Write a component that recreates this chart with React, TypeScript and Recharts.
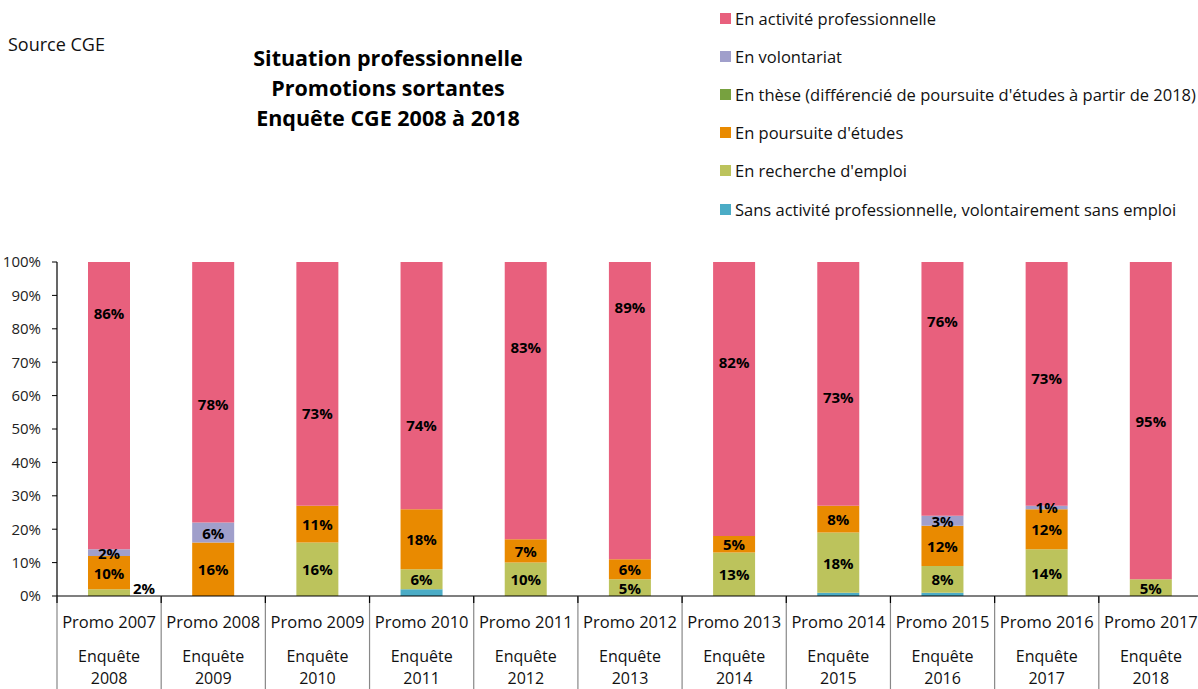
import React from 'react';
import { BarChart, Bar, XAxis, YAxis, LabelList } from 'recharts';

const promos = ['Promo 2007', 'Promo 2008', 'Promo 2009', 'Promo 2010', 'Promo 2011', 'Promo 2012', 'Promo 2013', 'Promo 2014', 'Promo 2015', 'Promo 2016', 'Promo 2017'];
const enquetes = ['2008', '2009', '2010', '2011', '2012', '2013', '2014', '2015', '2016', '2017', '2018'];

const sansActivite = [0, 0, 0, 2, 0, 0, 0, 1, 1, 0, 0];
const recherche = [2, 0, 16, 6, 10, 5, 13, 18, 8, 14, 5];
const poursuite = [10, 16, 11, 18, 7, 6, 5, 8, 12, 12, 0];
const these = [0, 0, 0, 0, 0, 0, 0, 0, 0, 0, 0];
const volontariat = [2, 6, 0, 0, 0, 0, 0, 0, 3, 1, 0];
const activite = [86, 78, 73, 74, 83, 89, 82, 73, 76, 73, 95];
// where (on the % axis) the "En activité" label sits in each bar
const activiteLabelAt = [84.7, 57.5, 54.8, 51.2, 74.6, 86.5, 70.1, 59.6, 82.3, 65.3, 52.4];

const yTicks = [0, 10, 20, 30, 40, 50, 60, 70, 80, 90, 100];

const series = [
  { key: 'sans', name: 'Sans activité professionnelle, volontairement sans emploi', color: '#4BACC6', values: sansActivite, label: false },
  { key: 'recherche', name: "En recherche d'emploi", color: '#BCC35C', values: recherche, label: true },
  { key: 'poursuite', name: "En poursuite d'études", color: '#E98A00', values: poursuite, label: true },
  { key: 'these', name: "En thèse (différencié de poursuite d'études à partir de 2018)", color: '#77A13F', values: these, label: true },
  { key: 'volontariat', name: 'En volontariat', color: '#A09FCB', values: volontariat, label: true },
  { key: 'activite', name: 'En activité professionnelle', color: '#E8607D', values: activite, label: true },
];

const data = promos.map((p, i) => {
  const row: any = { promo: p, enquete: enquetes[i] };
  series.forEach((s) => { row[s.key] = s.values[i]; });
  return row;
});

const FONT = '"Open Sans", "Noto Sans", sans-serif';
const CHART_W = 1206;
const CHART_H = 689;
const M_LEFT = 57;
const M_RIGHT = 3;
const M_TOP = 262;
const X_H = 93;
const PLOT_BOTTOM = CHART_H - X_H;
const PLOT_W = CHART_W - M_LEFT - M_RIGHT;
const BAND = PLOT_W / promos.length;

const XTick = (props: any) => {
  const { x, payload } = props;
  const i = promos.indexOf(payload.value);
  const left = x - BAND / 2;
  return (
    <g>
      <line x1={left} y1={PLOT_BOTTOM} x2={left} y2={CHART_H} stroke="#888" strokeWidth={1.2} />
      <line x1={left} y1={PLOT_BOTTOM} x2={left} y2={PLOT_BOTTOM + 7} stroke="#000" strokeWidth={1.2} />
      <text x={x} y={621} textAnchor="middle" dominantBaseline="central" fontSize={16.5} fill="#111" fontFamily={FONT}>{promos[i]}</text>
      <text x={x} y={656} textAnchor="middle" dominantBaseline="central" fontSize={16} fill="#111" fontFamily={FONT}>Enquête</text>
      <text x={x} y={678} textAnchor="middle" dominantBaseline="central" fontSize={16} fill="#111" fontFamily={FONT}>{enquetes[i]}</text>
    </g>
  );
};

const makeLabel = (key: string) => (props: any) => {
  const { x, y, width, height, value, index } = props;
  if (!value) return null;
  let cx = x + width / 2;
  let cy = y + height / 2;
  let anchor: any = 'middle';
  if (key === 'activite') {
    const pxPer = height / value;
    cy = y + height - (activiteLabelAt[index] - (100 - value)) * pxPer;
  }
  if (key === 'recherche' && height < 10) {
    cx = x + width + 3;
    anchor = 'start';
    cy = y + height / 2 - 5;
  }
  return (
    <text x={cx} y={cy} textAnchor={anchor} dominantBaseline="central" fontSize={15} fontWeight={700} fill="#000" fontFamily={FONT}>
      {value}%
    </text>
  );
};

export default function App() {
  const legendItems = [...series].reverse();
  return (
    <div style={{ position: 'absolute', left: 0, top: 0, width: 1198, height: 689, overflow: 'hidden', background: '#fff', fontFamily: FONT }}>
      <div style={{ position: 'absolute', left: 8, top: 32, fontSize: 18, lineHeight: '24px', color: '#111' }}>Source CGE</div>
      <div style={{ position: 'absolute', left: 188, top: 43, width: 400, textAlign: 'center', fontSize: 21.5, fontWeight: 700, lineHeight: '30px', color: '#000' }}>
        <div>Situation professionnelle</div>
        <div>Promotions sortantes</div>
        <div>Enquête CGE 2008 à 2018</div>
      </div>
      {legendItems.map((s, i) => (
        <div key={s.key} style={{ position: 'absolute', left: 720, top: 18 + i * 38.2 - 11, height: 22, display: 'flex', alignItems: 'center', fontSize: 16.5, color: '#111', whiteSpace: 'nowrap' }}>
          <span style={{ display: 'inline-block', width: 11, height: 11, background: s.color, marginRight: 4 }} />
          <span>{s.name}</span>
        </div>
      ))}
      <div style={{ position: 'absolute', left: 0, top: 0 }}>
        <BarChart width={CHART_W} height={CHART_H} data={data} margin={{ top: M_TOP, right: M_RIGHT, left: 0, bottom: 0 }} barSize={42}>
          <YAxis
            domain={[0, 100]}
            ticks={yTicks}
            interval={0}
            width={M_LEFT}
            tickFormatter={(v: number) => `${v}%`}
            axisLine={{ stroke: '#000', strokeWidth: 1.2 }}
            tickLine={{ stroke: '#000' }}
            tickSize={5}
            tickMargin={11}
            tick={{ fontSize: 15, fill: '#222', fontFamily: FONT }}
          />
          <XAxis
            dataKey="promo"
            height={X_H}
            interval={0}
            axisLine={{ stroke: '#000', strokeWidth: 1.2 }}
            tickLine={false}
            tick={<XTick />}
          />
          {series.map((s) => (
            <Bar key={s.key} dataKey={s.key} name={s.name} stackId="a" fill={s.color} isAnimationActive={false}>
              {s.label ? <LabelList dataKey={s.key} content={makeLabel(s.key)} /> : null}
            </Bar>
          ))}
        </BarChart>
      </div>
    </div>
  );
}
